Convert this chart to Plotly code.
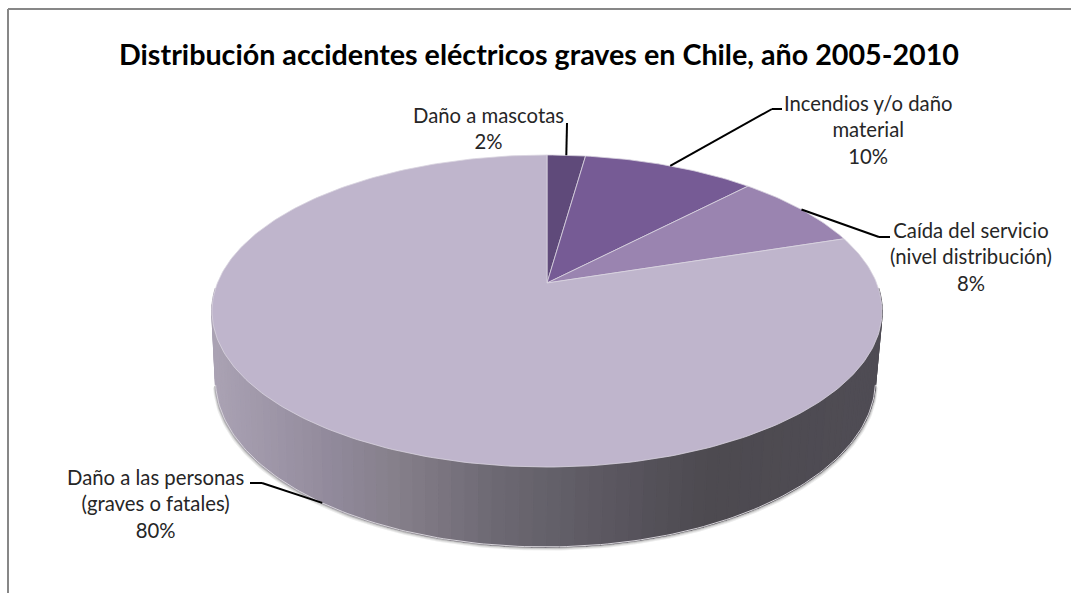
import numpy as np
import plotly.graph_objects as go

title = "Distribución accidentes eléctricos graves en Chile, año 2005-2010"
categories = ["Daño a mascotas", "Incendios y/o daño<br>material",
              "Caída del servicio<br>(nivel distribución)",
              "Daño a las personas<br>(graves o fatales)"]
values = [2.2, 9.9, 7.9, 80.0]
slice_colors = ["#5F4A7A", "#765B95", "#9A84B0", "#BFB5CC"]

W, H = 1071, 593
CX, CY = 547, 283
K, A, B = 0.1795, 151.0, 329.6
CX2, CY2, SX2, SY2 = 545.5, 350, 0.985, 1.07

def rim(theta_deg, lower=False):
    t = np.radians(theta_deg)
    u, v = np.sin(t), np.cos(t)
    d = 1 + K * v
    if lower:
        return CX2 + SX2 * B * u / d, CY2 - SY2 * A * v / d
    return CX + B * u / d, CY - A * v / d

side_stops_x = [212, 330, 400, 500, 650, 710, 882]
side_stops_rgb = [(171, 163, 180), (146, 138, 156), (133, 127, 138),
                  (108, 104, 114), (85, 82, 90), (77, 74, 80), (80, 77, 85)]

def side_color(x):
    r = [np.interp(x, side_stops_x, [c[i] for c in side_stops_rgb]) for i in range(3)]
    return "rgb(%d,%d,%d)" % tuple(r)

fig = go.Figure()

def poly(xs, ys, fill, line=None, lw=0.6):
    fig.add_trace(go.Scatter(x=list(xs), y=list(ys), mode="lines", fill="toself",
                             fillcolor=fill, line=dict(color=line or fill, width=lw),
                             hoverinfo="skip", showlegend=False))

# soft shadow below the lower rim
th = np.linspace(102, 258, 157)
lx, ly = rim(th, True)
for off, col in [(3, "#EDEDED"), (2, "#D8D8D8"), (1, "#B5B5B5")]:
    fig.add_trace(go.Scatter(x=lx + off * np.sin(np.radians(th)) * 0.6, y=ly + off, mode="lines",
                             line=dict(color=col, width=1.5), hoverinfo="skip", showlegend=False))

# side wall, coloured by horizontal position
edges = np.linspace(92, 268, 89)
for a, b in zip(edges[:-1], edges[1:]):
    x1, y1 = rim(a); x2, y2 = rim(b)
    x3, y3 = rim(b, True); x4, y4 = rim(a, True)
    poly([x1, x2, x3, x4, x1], [y1, y2, y3, y4, y1], side_color((x1 + x2) / 2), lw=1.5)

# lower rim highlight
fig.add_trace(go.Scatter(x=lx, y=ly, mode="lines", line=dict(color="#D6D3D9", width=1),
                         hoverinfo="skip", showlegend=False))

# top face slices, computed from the values
total = sum(values)
start = 0.0
mids = []
for val, col in zip(values, slice_colors):
    sweep = 360.0 * val / total
    th = np.linspace(start, start + sweep, max(int(sweep), 2) + 1)
    x, y = rim(th)
    poly(np.r_[CX, x, CX], np.r_[CY, y, CY], col, "#D9D4DF", 0.8)
    mids.append(start + sweep / 2)
    start += sweep

# leader lines
shapes = []
def seg(points):
    for (x0, y0), (x1, y1) in zip(points[:-1], points[1:]):
        shapes.append(dict(type="line", xref="x", yref="y", x0=x0, y0=y0, x1=x1, y1=y1,
                           line=dict(color="#000000", width=2)))

seg([(567, 123), tuple(map(float, rim(mids[0])))])
seg([(782, 109), (772, 109), tuple(map(float, rim(mids[1])))])
seg([(890, 237), (879, 237), tuple(map(float, rim(mids[2])))])
seg([(250, 483), (262, 483), tuple(map(float, rim(mids[3], True)))])

# chart frame (open on the right, cut by the bottom edge)
for x0, y0, x1, y1 in [(8, 9, 1071, 9), (8, 9, 8, 593)]:
    shapes.append(dict(type="line", xref="x", yref="y", x0=x0, y0=y0, x1=x1, y1=y1,
                       line=dict(color="#878787", width=2)))

label_pos = [(488, 128), (868, 129.5), (971, 256), (155, 503.5)]
FONT = "Lato, 'Open Sans', sans-serif"
for cat, val, (x, y) in zip(categories, values, label_pos):
    fig.add_annotation(x=x, y=y, xref="x", yref="y", text=f"{cat}<br>{round(val)}%", showarrow=False,
                       align="center", font=dict(family=FONT, size=20.3, color="#262626"))

fig.add_annotation(x=539, y=54, xref="x", yref="y", text=f"<b>{title}</b>", showarrow=False,
                   font=dict(family=FONT, size=28.7, color="#000000"))

fig.update_layout(
    width=W, height=H, margin=dict(l=0, r=0, t=0, b=0),
    paper_bgcolor="#FFFFFF", plot_bgcolor="#FFFFFF", shapes=shapes, showlegend=False,
    xaxis=dict(range=[0, W], visible=False, fixedrange=True),
    yaxis=dict(range=[H, 0], visible=False, fixedrange=True),
)
fig.write_html("out.html", post_script="document.body.style.margin='0';",
               config=dict(displayModeBar=False))
